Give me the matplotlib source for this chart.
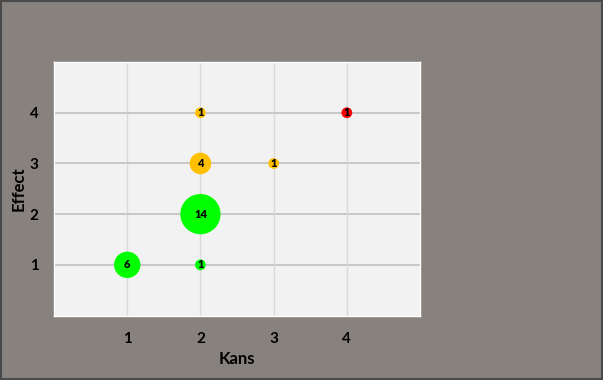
import matplotlib
matplotlib.use("Agg")
import matplotlib.pyplot as plt
from matplotlib.patches import Rectangle

# Risk matrix bubbles: Kans (x), Effect (y), count
kans = [1, 2, 2, 2, 2, 3, 4]
effect = [1, 1, 2, 3, 4, 3, 4]
counts = [6, 1, 14, 4, 1, 1, 1]
colors = ["#00ff00", "#00ff00", "#00ff00", "#ffc000", "#ffc000", "#ffc000", "#ff0000"]
ticks = [1, 2, 3, 4]

plt.rcParams["font.family"] = ["Lato", "DejaVu Sans"]

fig = plt.figure(figsize=(6.03, 3.80), dpi=100)
fig.patch.set_facecolor("#88827f")
fig.patches.append(Rectangle((0.002, 0.003), 0.996, 0.994, transform=fig.transFigure,
                             fill=False, edgecolor="#4a4a4a", linewidth=1.5))

ax = fig.add_axes([0.0896, 0.1697, 0.607, 0.667])
ax.set_facecolor("#f2f2f2")

# bubble area proportional to count, like Excel
sizes = [60 * c for c in counts]
ax.scatter(kans, effect, s=sizes, c=colors, edgecolors="none", zorder=3)
for x, y, c in zip(kans, effect, counts):
    ax.text(x, y, str(c), ha="center", va="center", fontsize=8,
            fontweight="heavy", color="black", zorder=4)

ax.set_xlim(0, 5)
ax.set_ylim(0, 5)
ax.set_xticks(ticks)
ax.set_yticks(ticks)
ax.set_xticklabels([str(t) for t in ticks], fontsize=11, fontweight="bold")
ax.set_yticklabels([str(t) for t in ticks], fontsize=11, fontweight="bold")
ax.tick_params(length=0, pad=12)
ax.tick_params(axis="y", pad=11)

for t in ticks:
    ax.axvline(t, color="#d9d9d9", linewidth=1, zorder=1)
    ax.axhline(t, color="#c4c4c4", linewidth=1.3, zorder=1)

for side in ax.spines.values():
    side.set_color("#ffffff")
    side.set_linewidth(1)

ax.set_xlabel("Kans", fontsize=12, fontweight="bold")
ax.set_ylabel("Effect", fontsize=12, fontweight="bold")
ax.xaxis.set_label_coords(0.5, -0.14)
ax.yaxis.set_label_coords(-0.075, 0.5)

fig.savefig("out.png", dpi=100, facecolor=fig.get_facecolor())
